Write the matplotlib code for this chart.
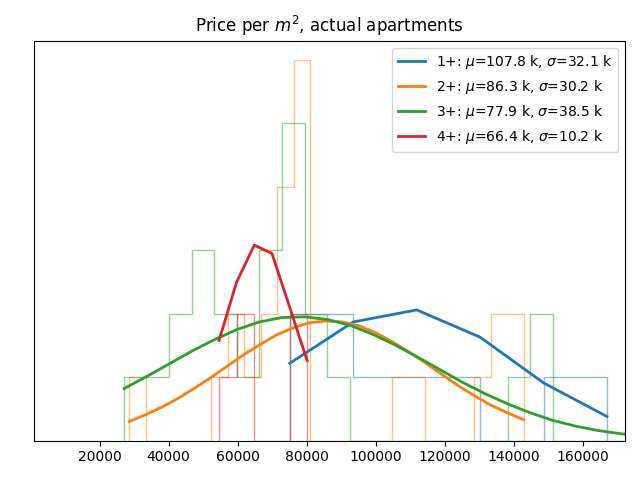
import matplotlib
matplotlib.use("Agg")
import matplotlib.pyplot as plt
import numpy as np

# bin edges and counts (one list per group)
labels = ["1+", "2+", "3+", "4+"]
mus = [107.8, 86.3, 77.9, 66.4]
sigmas = [32.1, 30.2, 38.5, 10.2]

edges_1 = [75100, 93460, 111820, 130180, 148540, 166900]
counts_1 = [2, 1, 1, 0, 1]

edges_2 = [28600, 33360, 38110, 42870, 47620, 52380, 57140, 61890, 66650,
           71400, 76160, 80920, 85670, 90430, 95180, 99940, 104700, 109450,
           114210, 118960, 123720, 128480, 133230, 137990, 142750]
counts_2 = [1, 0, 0, 0, 0, 1, 2, 1, 2, 4, 6, 0, 0, 0, 0, 0, 1, 1, 0, 0, 0,
            1, 2, 2]

edges_3 = [27100, 33630, 40160, 46690, 53220, 59750, 66280, 72810, 79340,
           85870, 92400, 98930, 105460, 111990, 118520, 125050, 131580,
           138110, 144640, 151170, 157700, 164230, 170760, 177290]
counts_3 = [1, 1, 2, 3, 2, 1, 3, 5, 2, 1, 0, 0, 0, 0, 0, 0, 0, 1, 2, 0, 0,
            0, 0]

edges_4 = [54600, 59700, 64800, 69900, 75000, 80100]
counts_4 = [1, 2, 0, 0, 2]

# fitted curves, sampled at the bin edges (same y units as the counts)
curve_1 = [1.22, 1.87, 2.06, 1.63, 0.91, 0.38]
curve_2 = [0.30, 0.41, 0.53, 0.67, 0.83, 1.00, 1.18, 1.36, 1.52, 1.67, 1.78,
           1.86, 1.885, 1.87, 1.81, 1.70, 1.56, 1.40, 1.23, 1.05, 0.87, 0.71,
           0.56, 0.44, 0.33]
curve_3 = [0.82, 1.01, 1.21, 1.41, 1.59, 1.75, 1.87, 1.94, 1.95, 1.91, 1.82,
           1.68, 1.51, 1.32, 1.12, 0.92, 0.74, 0.58, 0.44, 0.32, 0.23, 0.16,
           0.11, 0.07]
curve_4 = [1.58, 2.50, 3.08, 2.95, 2.11, 1.26]

groups = [(edges_1, counts_1, curve_1), (edges_2, counts_2, curve_2),
          (edges_3, counts_3, curve_3), (edges_4, counts_4, curve_4)]
colors = ["C0", "C1", "C2", "C3"]

fig, ax = plt.subplots(figsize=(6.4, 4.8), dpi=100)
for (edges, counts, curve), lab, mu, sd, c in zip(groups, labels, mus, sigmas, colors):
    ax.stairs(counts, edges, color=c, alpha=0.5, linewidth=1)
    ax.plot(edges, curve, color=c, linewidth=2,
            label=f"{lab}: $\\mu$={mu:.1f} k, $\\sigma$={sd:.1f} k")

ax.set_xlim(1000, 172200)
ax.set_yticks([])
ax.set_title("Price per $m^2$, actual apartments")
ax.legend(loc="upper right")
fig.subplots_adjust(left=0.053, right=0.977, top=0.915, bottom=0.082)
fig.savefig("out.png", dpi=100)
